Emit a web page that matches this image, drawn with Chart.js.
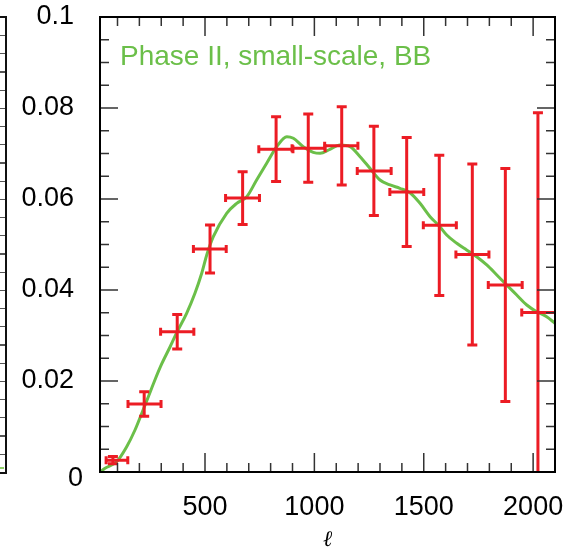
<!DOCTYPE html>
<html>
<head>
<meta charset="utf-8">
<script src="https://cdn.jsdelivr.net/npm/chart.js@4.4.0/dist/chart.umd.min.js"></script>
<style>
  html, body { margin: 0; padding: 0; background: #fff; }
  #wrap { position: relative; width: 575px; height: 549px; overflow: hidden; }
  /* right edge of the neighbouring panel, only a sliver shows */
  #neighbour {
    position: absolute; left: -20px; top: 16px; width: 23px; height: 454px;
    border: 2px solid #111;
    background: repeating-linear-gradient(to bottom, transparent 0, transparent 17px, #555 17px, #555 18.2px);
  }
  #neighbourLine { position: absolute; left: 0; top: 467px; width: 4px; height: 2px; background: #8fcf6a; }
  canvas { position: absolute; left: 0; top: 0; }
</style>
</head>
<body>
<div id="wrap">
  <div id="neighbour"></div>
  <div id="neighbourLine"></div>
  <canvas id="bbChart" width="575" height="549"></canvas>
</div>
<script>
// theory curve (multipole, C_l^BB)
const ellCurve = [20, 43, 96, 142, 180, 211, 241, 271, 302, 340, 373, 416, 454, 485, 508, 538,
  599, 645, 691, 736, 782, 828, 874, 904, 949, 995, 1026, 1071, 1117, 1163, 1209, 1254, 1300,
  1346, 1391, 1437, 1483, 1529, 1571, 1605, 1651, 1696, 1742, 1788, 1834, 1879, 1925, 1971,
  2016, 2062, 2100];
const clCurve = [0, 0.0008, 0.00226, 0.00556, 0.00923, 0.0129, 0.01655, 0.02022, 0.02374, 0.02747,
  0.03084, 0.03488, 0.03927, 0.04367, 0.04769, 0.05171, 0.05686, 0.05905, 0.06051, 0.06418,
  0.06785, 0.0715, 0.07369, 0.07334, 0.0715, 0.07026, 0.07004, 0.07092, 0.07187, 0.0715,
  0.0693, 0.06675, 0.06418, 0.06308, 0.06235, 0.06138, 0.05905, 0.05611, 0.05407, 0.05209,
  0.05026, 0.04879, 0.04732, 0.0455, 0.0433, 0.0411, 0.0389, 0.0367, 0.03523, 0.03413, 0.03268];

// band powers
const binCentre = [79, 222, 373, 523, 672, 825, 972, 1125, 1272, 1422, 1571, 1722, 1873, 2022];
const binLow    = [48, 148, 297, 447, 594, 746, 898, 1047, 1196, 1345, 1498, 1647, 1795, 1948];
const binHigh   = [147, 299, 449, 597, 749, 902, 1049, 1199, 1351, 1500, 1649, 1798, 1950, 2110];
const bandPower = [0.0026, 0.01495, 0.03084, 0.04901, 0.0602, 0.07095, 0.07118, 0.0717, 0.06618,
  0.06154, 0.05421, 0.0478, 0.0411, 0.03505];
const bandErr   = [0.0008, 0.0027, 0.0038, 0.0053, 0.0058, 0.0071, 0.0075, 0.0086, 0.0098,
  0.0120, 0.0154, 0.0199, 0.0256, 0.0439];

// ticks
const xTickLabels = [500, 1000, 1500, 2000];
const yTickLabels = [0, 0.02, 0.04, 0.06, 0.08, 0.1];
const xMinorTicks = [];
for (let v = 100; v < 2100; v += 100) xMinorTicks.push(v);
const yMinorTicks = [];
for (let v = 0.005; v < 0.1; v += 0.005) yMinorTicks.push(+v.toFixed(3));

const green = '#6bbf49';
const red = '#ec1c24';
const font = 'Liberation Sans';
const tickFontSize = 27;

// keep the plot box where the reference has it
const noMargins = s => { s.paddingLeft = s.paddingRight = s.paddingTop = s.paddingBottom = 0; };

const panelDecor = {
  id: 'panelDecor',
  afterDatasetsDraw(chart) {
    const { ctx, chartArea: a, scales: { x, y } } = chart;
    ctx.save();
    ctx.beginPath();
    ctx.rect(a.left, a.top, a.right - a.left, a.bottom - a.top);
    ctx.clip();
    ctx.strokeStyle = red;
    ctx.lineWidth = 3;
    ctx.lineCap = 'butt';
    for (let i = 0; i < binCentre.length; i++) {
      const px = x.getPixelForValue(binCentre[i]);
      const py = y.getPixelForValue(bandPower[i]);
      const x0 = x.getPixelForValue(binLow[i]);
      const x1 = x.getPixelForValue(binHigh[i]);
      const yTop = y.getPixelForValue(bandPower[i] + bandErr[i]);
      const yBot = y.getPixelForValue(bandPower[i] - bandErr[i]);
      ctx.beginPath();
      ctx.moveTo(px, yTop); ctx.lineTo(px, yBot);
      ctx.moveTo(px - 5, yTop); ctx.lineTo(px + 5, yTop);
      ctx.moveTo(px - 5, yBot); ctx.lineTo(px + 5, yBot);
      ctx.moveTo(x0, py); ctx.lineTo(x1, py);
      ctx.moveTo(x0, py - 4); ctx.lineTo(x0, py + 4);
      ctx.moveTo(x1, py - 4); ctx.lineTo(x1, py + 4);
      ctx.stroke();
    }
    ctx.restore();
  },
  afterDraw(chart) {
    const { ctx, chartArea: a, scales: { x, y } } = chart;
    ctx.save();
    // inward ticks on all four sides
    ctx.strokeStyle = '#333';
    ctx.lineWidth = 1.5;
    ctx.beginPath();
    const xt = (v, len) => {
      const p = x.getPixelForValue(v);
      ctx.moveTo(p, a.bottom); ctx.lineTo(p, a.bottom - len);
      ctx.moveTo(p, a.top); ctx.lineTo(p, a.top + len);
    };
    const yt = (v, len) => {
      const p = y.getPixelForValue(v);
      ctx.moveTo(a.left, p); ctx.lineTo(a.left + len, p);
      ctx.moveTo(a.right, p); ctx.lineTo(a.right - len, p);
    };
    xMinorTicks.forEach(v => xt(v, xTickLabels.includes(v) ? 19 : 9));
    yMinorTicks.forEach(v => yt(v, yTickLabels.some(t => Math.abs(t - v) < 1e-9) ? 18 : 9));
    ctx.stroke();
    // frame
    ctx.strokeStyle = '#000';
    ctx.lineWidth = 2;
    ctx.strokeRect(a.left, a.top, a.right - a.left, a.bottom - a.top);
    // the zero label sits lower and further right than the others in the reference
    ctx.fillStyle = '#000';
    ctx.font = tickFontSize + 'px "' + font + '"';
    ctx.textAlign = 'right';
    ctx.textBaseline = 'middle';
    ctx.fillText(String(yTickLabels[0]), 83, y.getPixelForValue(yTickLabels[0]) + 7);
    // panel label
    ctx.fillStyle = green;
    ctx.font = '28px "' + font + '"';
    ctx.textAlign = 'left';
    ctx.textBaseline = 'alphabetic';
    ctx.fillText('Phase II, small-scale, BB', 120, 65);
    ctx.restore();
  }
};

new Chart(document.getElementById('bbChart'), {
  type: 'scatter',
  data: {
    datasets: [
      {
        type: 'line',
        label: 'theory',
        data: ellCurve.map((l, i) => ({ x: l, y: clCurve[i] })),
        borderColor: green,
        borderWidth: 3,
        pointRadius: 0,
        cubicInterpolationMode: 'monotone',
        fill: false
      },
      {
        label: 'band powers',
        data: binCentre.map((l, i) => ({ x: l, y: bandPower[i] })),
        pointRadius: 0
      }
    ]
  },
  options: {
    responsive: false,
    animation: false,
    layout: { padding: { top: 17, right: 20, left: 0, bottom: 0 } },
    plugins: { legend: { display: false }, tooltip: { enabled: false } },
    scales: {
      x: {
        type: 'linear',
        min: 20,
        max: 2100,
        afterBuildTicks: s => { s.ticks = xTickLabels.map(v => ({ value: v })); },
        afterFit: s => { s.height = 77; noMargins(s); },
        grid: { display: false },
        border: { display: false },
        ticks: {
          color: '#000', font: { family: font, size: tickFontSize }, padding: 11, maxRotation: 0, autoSkip: false,
          callback: v => String(v)
        },
        title: {
          display: true,
          text: 'ℓ',
          color: '#000',
          font: { family: 'DejaVu Serif', size: 22, style: 'italic', lineHeight: 1 },
          padding: { top: 0, bottom: -2 }
        }
      },
      y: {
        type: 'linear',
        min: 0,
        max: 0.1,
        afterBuildTicks: s => { s.ticks = yTickLabels.map(v => ({ value: v })); },
        afterFit: s => { s.width = 100; noMargins(s); },
        grid: { display: false },
        border: { display: false },
        ticks: {
          color: '#000', font: { family: font, size: tickFontSize }, padding: 18,
          callback: v => (v === 0 ? '' : String(+v.toFixed(3)))
        }
      }
    }
  },
  plugins: [panelDecor]
});
</script>
</body>
</html>
